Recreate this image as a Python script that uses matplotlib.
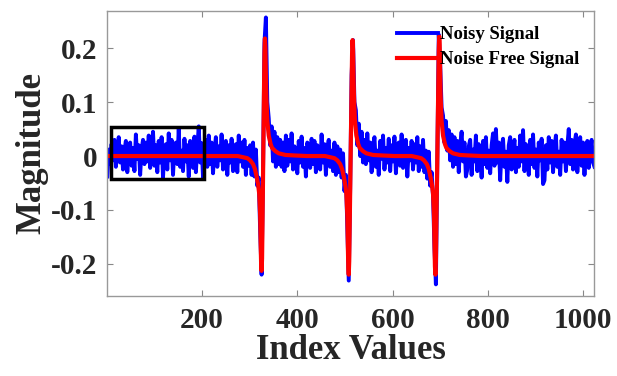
import numpy as np
import matplotlib.pyplot as plt
from matplotlib.patches import Rectangle

# 噪声信号，每隔 3 个索引读一个值（单位：千分之一）
noisy_idx = np.arange(1, 1025, 3)
noisy_milli = [
    -38, 12, -15, 22, -8, 30, -20, 5, 35, -12, 18, -25, 10, 28, -30, 8, 25, -18,
    15, -28, 40, -5, 20, -35, 12, 30, -15, 25, -10, 38, -22, 8, 45, -18, 20, -30,
    28, -12, 35, -40, 15, 22, -25, 42, -8, 30, -35, 18, 25, -15, 50, -20, 10, -28,
    32, -10, 20, -38, 28, 12, -22, 36, -30, 15, 55, -12, 24, -40, 18, 30, -20, 38,
    -15, 25, -32, 10, 35, -20, 18, -8, 40, -25, 12, 28, -35, 20, -12, 32, -28, 15,
    22, -30, 38, -10, 25, -20, 30, -35, 15, -18, 20, -35, 25, -38, 12, -55, -40, -140,
    -220, -30, 210, 257, 100, 70, 20, 55, -10, 45, -20, 35, -15, 30, -20, 25, -28, 38,
    -18, 30, -10, 42, -25, 18, 5, -32, 28, -12, 36, -20, 15, -38, 25, 10, -22, 32,
    -15, 28, -30, 20, 8, -25, 40, -12, 22, -35, 15, 30, -20, 10, -28, 25, -35, 18,
    -30, 12, -40, 5, -65, -35, -130, -231, -60, 150, 215, 100, 85, 20, 60, 0, 45, -12,
    30, -15, 42, -8, 25, -30, 18, 35, -20, 10, -35, 28, -5, 38, -25, 15, -12, 32,
    -28, 20, -10, 36, -32, 12, 25, -18, 40, -22, 8, 30, -38, 15, -8, 28, -25, 22,
    -12, 35, -28, 18, -20, 30, -30, 10, -42, 8, -55, -30, -75, -170, -238, 0, 225, 170,
    90, 75, 25, 65, 10, 48, -8, 40, -20, 35, -15, 28, -30, 20, 45, -10, 25, -38,
    -25, 18, 30, -35, 12, -10, 38, -28, 22, 5, -40, 28, -15, 35, -22, 10, -32, 20,
    42, -18, 50, -12, 25, -45, 15, 32, -20, 8, -48, 20, 35, -25, 10, 30, -30, 15,
    -20, 38, -10, 48, -28, 22, 5, -35, 30, -15, 40, -22, 12, -38, 25, -8, 32, -52,
    -45, 20, -25, 35, -12, 28, -30, 15, 38, -20, 8, -35, 30, -10, 25, -28, 18, 50,
    -15, 30, -25, 22, 40, -30, 12, 35, -18, 25, -35, 15, 28, -22, 10, 30, -12, -20,
]
noisy = np.array(noisy_milli) / 1000.0

# 无噪声信号
clean_x = [1,
           275, 285, 295, 301, 307, 311, 315, 318, 320, 322, 323, 324, 325, 326, 327,
           328.5, 330, 331, 332, 333, 334, 335, 337, 340, 344, 347, 354, 361, 375, 395, 420,
           458, 468, 478, 484, 490, 494, 498, 501, 503, 505, 506, 507, 508, 509, 510,
           512, 514, 515, 516, 517, 518, 519, 521, 524, 528, 531, 538, 545, 559, 579, 604,
           640, 650, 660, 666, 672, 676, 680, 683, 685, 687, 688, 689, 690, 691, 692,
           694, 696, 697, 698, 699, 700, 701, 703, 706, 710, 713, 720, 727, 741, 761, 786,
           1024]
clean_y = [0.0,
           0.000, -0.002, -0.004, -0.008, -0.015, -0.024, -0.040, -0.055, -0.070, -0.110, -0.160, -0.200, -0.213, -0.190, -0.120,
           0.000, 0.120, 0.190, 0.218, 0.200, 0.150, 0.110, 0.065, 0.038, 0.022, 0.015, 0.009, 0.005, 0.002, 0.001, 0.000,
           0.000, -0.002, -0.004, -0.008, -0.015, -0.024, -0.040, -0.055, -0.070, -0.110, -0.160, -0.205, -0.220, -0.195, -0.130,
           0.000, 0.130, 0.190, 0.215, 0.198, 0.150, 0.110, 0.065, 0.038, 0.022, 0.015, 0.009, 0.005, 0.002, 0.001, 0.000,
           0.000, -0.002, -0.004, -0.008, -0.015, -0.024, -0.040, -0.055, -0.070, -0.110, -0.160, -0.205, -0.220, -0.195, -0.130,
           0.000, 0.130, 0.195, 0.222, 0.205, 0.155, 0.110, 0.065, 0.038, 0.022, 0.015, 0.009, 0.005, 0.002, 0.001, 0.000,
           0.0]

# 黑框标出的区域
box_x = [8, 204]
box_y = [-0.043, 0.054]

xticks = [200, 400, 600, 800, 1000]
yticks = [-0.2, -0.1, 0, 0.1, 0.2]
ytick_labels = ['-0.2', '-0.1', '0', '0.1', '0.2']

plt.rcParams['font.family'] = ['Liberation Serif', 'DejaVu Serif']
plt.rcParams['font.weight'] = 'bold'
plt.rcParams['axes.unicode_minus'] = False

fig = plt.figure(figsize=(6.17, 3.76), dpi=100)
ax = fig.add_axes([0.1739, 0.2136, 0.7896, 0.7572])

ax.plot(noisy_idx, noisy, color='#0000ff', lw=2.8, label='Noisy Signal')
ax.plot(clean_x, clean_y, color='#ff0000', lw=3, label='Noise Free Signal')
ax.add_patch(Rectangle((box_x[0], box_y[0]), box_x[1] - box_x[0], box_y[1] - box_y[0],
                       fill=False, ec='k', lw=2.5, zorder=5))

ax.set_xlim(1, 1024)
ax.set_ylim(-0.259, 0.269)
ax.set_xticks(xticks)
ax.set_yticks(yticks)
ax.set_yticklabels(ytick_labels)
ax.tick_params(direction='in', length=4, width=0.8, color='#888888', top=True, right=True,
               labelsize=21, labelcolor='#262626')
ax.tick_params(axis='x', pad=8)
ax.tick_params(axis='y', pad=7)
for s in ax.spines.values():
    s.set_color('#999999')
    s.set_linewidth(1.0)

ax.set_xlabel('Index Values', fontsize=25, fontweight='bold', labelpad=0, color='#262626')
ax.set_ylabel('Magnitude', fontsize=25, fontweight='bold', labelpad=2, color='#262626')

ax.legend(loc='upper left', bbox_to_anchor=(0.595, 0.946), frameon=False, fontsize=13.5,
          handlelength=2.2, handletextpad=0.1, labelspacing=0.4, borderpad=0, borderaxespad=0)

fig.savefig('out.png', dpi=100)
